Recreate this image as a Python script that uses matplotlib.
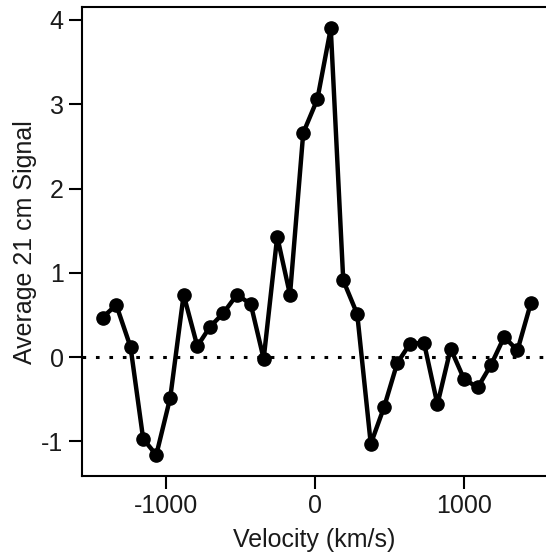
import matplotlib
matplotlib.use('Agg')
import matplotlib.pyplot as plt

# velocity channels (km/s) and averaged 21 cm signal
velocity = [-1428, -1336, -1240, -1155, -1067, -973, -883, -791, -706, -617,
            -525, -432, -345, -254, -168, -79, 16, 106, 190, 284,
            375, 465, 553, 639, 733, 823, 912, 1002, 1094, 1184,
            1272, 1361, 1451]
signal = [0.47, 0.62, 0.12, -0.97, -1.16, -0.48, 0.74, 0.13, 0.36, 0.52,
          0.74, 0.63, -0.02, 1.43, 0.74, 2.66, 3.06, 3.90, 0.91, 0.51,
          -1.03, -0.59, -0.07, 0.16, 0.17, -0.56, 0.10, -0.26, -0.36, -0.09,
          0.24, 0.08, 0.64]

x_ticks = [-1000, 0, 1000]
y_ticks = [-1, 0, 1, 2, 3, 4]

plt.rcParams['font.family'] = ['Liberation Sans', 'DejaVu Sans']
plt.rcParams['axes.unicode_minus'] = False

dpi = 100
fig = plt.figure(figsize=(5.46, 5.54), dpi=dpi)
ax = fig.add_axes([0.150, 0.1408, 0.850, 0.846])

ax.axhline(0, color='black', lw=2.2, linestyle=(0, (1.2, 3.2)), zorder=1)
ax.plot(velocity, signal, color='black', lw=3.2, marker='o', markersize=9.5,
        zorder=2, clip_on=False)

ax.set_xlim(-1567, 1553)
ax.set_ylim(-1.41, 4.15)
ax.set_xticks(x_ticks)
ax.set_yticks(y_ticks)

for side in ['left', 'bottom', 'top']:
    ax.spines[side].set_linewidth(1.5)
ax.spines['right'].set_visible(False)

ax.tick_params(direction='out', length=9.2, width=1.5, labelsize=18, pad=4,
               labelcolor='#1a1a1a')
ax.set_xlabel('Velocity (km/s)', fontsize=18, labelpad=7, color='#1a1a1a')
ax.set_ylabel('Average 21 cm Signal', fontsize=18, labelpad=3, color='#1a1a1a')

plt.savefig('out.png', dpi=dpi, facecolor='white')
plt.close()
